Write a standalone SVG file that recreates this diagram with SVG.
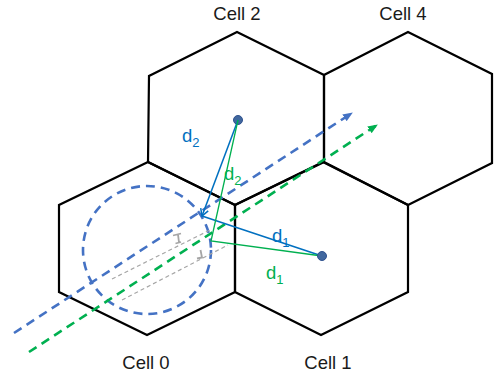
<svg xmlns="http://www.w3.org/2000/svg" width="495" height="379" viewBox="0 0 495 379">
<style>
.hex{fill:none;stroke:#000;stroke-width:2.2;stroke-linejoin:miter}
.lbl{font-family:"Liberation Sans",Arial,sans-serif;font-size:18.5px;fill:#1a1a1a;text-anchor:middle}
.dl{font-family:"Liberation Sans",Arial,sans-serif;font-size:18.5px}
.sub{font-size:13px}
.bl{fill:#0070C0}
.gr{fill:#00B050}
.dashB{fill:none;stroke:#4472C4;stroke-width:2.6;stroke-dasharray:9 6}
.dashG{fill:none;stroke:#00B050;stroke-width:2.6;stroke-dasharray:9 6}
.gray{fill:none;stroke:#A6A6A6;stroke-width:1.2;stroke-dasharray:4 3}
.mark{fill:none;stroke:#A6A6A6;stroke-width:1.8}
.solB{fill:none;stroke:#0070C0;stroke-width:1.6}
.solG{fill:none;stroke:#00B050;stroke-width:1.3}
.dot{fill:#41679E;stroke:#2F528F;stroke-width:1}
</style>
<defs>
<marker id="arrB" markerUnits="userSpaceOnUse" markerWidth="12" markerHeight="10" refX="9" refY="4" orient="auto">
<path d="M0,0 L10,4 L0,8 z" fill="#4472C4"/>
</marker>
<marker id="arrG" markerUnits="userSpaceOnUse" markerWidth="12" markerHeight="10" refX="9" refY="4" orient="auto">
<path d="M0,0 L10,4 L0,8 z" fill="#00B050"/>
</marker>
<marker id="openB" markerUnits="userSpaceOnUse" markerWidth="12" markerHeight="12" refX="8" refY="5" orient="auto">
<path d="M1,1 L8,5 L1,9" fill="none" stroke="#0070C0" stroke-width="1.5"/>
</marker>
</defs>
<g id="cell0">
<polygon class="hex" points="148,162 235,205 235,292 147,335 59,292 59,205"/>
<text class="lbl" x="146" y="369">Cell 0</text>
</g>
<g id="cell1">
<polygon class="hex" points="323,162 408,205 408,292 321,335 235,292 235,205"/>
<text class="lbl" x="328" y="369">Cell 1</text>
</g>
<g id="cell2">
<polygon class="hex" points="237,32 324,75 324,162 235,205 148,162 149,76"/>
<circle class="dot" cx="238" cy="120" r="4.5"/>
<text class="lbl" x="237" y="20">Cell 2</text>
</g>
<g id="cell4">
<polygon class="hex" points="408,32 492,74 492,163 408,205 324,162 324,75"/>
<text class="lbl" x="403" y="20">Cell 4</text>
</g>
<g id="connectors">
<circle class="dashB" cx="147" cy="250" r="64"/>
<line class="gray" x1="112" y1="279" x2="212" y2="229"/>
<line class="gray" x1="122" y1="300" x2="228" y2="245"/>
<path class="mark" d="M173,235.5 L181,233.5 M178,234.5 L179,242.5 M175.5,243.5 L181,242"/>
<path class="mark" d="M200.5,250 L202,257.5 L197,258.5"/>
<line class="dashB" x1="14" y1="333" x2="352" y2="113" marker-end="url(#arrB)"/>
<line class="dashG" x1="29" y1="352" x2="377" y2="125" marker-end="url(#arrG)"/>
<line class="solB" x1="238" y1="120" x2="202" y2="216" marker-end="url(#openB)"/>
<line class="solB" x1="202" y1="216" x2="322" y2="256"/>
<polyline class="solG" points="238,120 211,241 322,256"/>
<circle class="dot" cx="322" cy="256" r="4.5"/>
<text class="dl bl" x="182" y="142">d<tspan class="sub" dy="5">2</tspan></text>
<text class="dl gr" x="224" y="180">d<tspan class="sub" dy="5">2</tspan></text>
<text class="dl bl" x="272" y="242">d<tspan class="sub" dy="5">1</tspan></text>
<text class="dl gr" x="266" y="279">d<tspan class="sub" dy="5">1</tspan></text>
</g>
</svg>
